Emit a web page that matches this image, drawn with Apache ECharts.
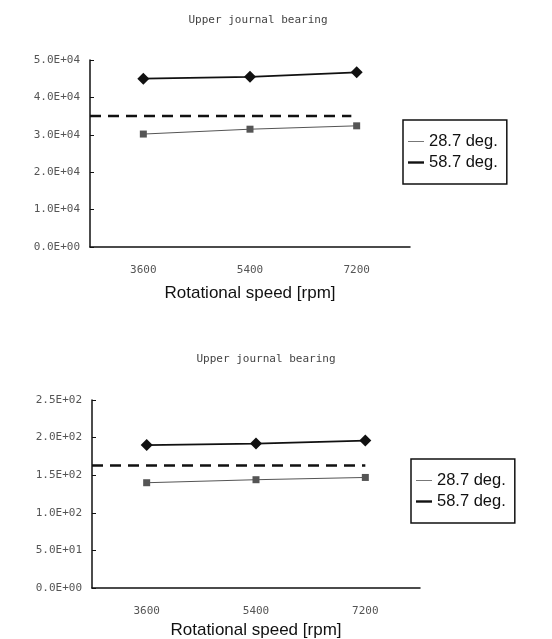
<!DOCTYPE html>
<html>
<head>
<meta charset="utf-8">
<script src="https://cdn.jsdelivr.net/npm/echarts@6/dist/echarts.min.js"></script>
<style>
html, body { margin: 0; padding: 0; background: #fff; }
#main { width: 552px; height: 639px; }
</style>
</head>
<body>
<div id="main"></div>
<script>
var speeds = ['3600', '5400', '7200'];
var seriesNames = ['28.7 deg.', '58.7 deg.'];

// upper chart
var top287 = [30200, 31500, 32400];
var top587 = [45000, 45500, 46700];
var topLimit = 35000;
var topLimitSpan = [0, 2.45];

// lower chart
var bot287 = [140, 144, 147];
var bot587 = [190, 192, 196];
var botLimit = 163;
var botLimitSpan = [0, 2.5];

var titles = ['Upper journal bearing', 'Upper journal bearing'];

function sci(v) {
    var s = v.toExponential(1).toUpperCase();
    var parts = s.split('E');
    var exp = parseInt(parts[1], 10);
    var sign = exp < 0 ? '-' : '+';
    var e = Math.abs(exp);
    return parts[0] + 'E' + sign + (e < 10 ? '0' + e : e);
}

var grids = [
    { left: 90, top: 60, width: 320, height: 187, outerBoundsMode: 'none' },
    { left: 92, top: 400, width: 328, height: 188, outerBoundsMode: 'none' }
];

var monoLabel = { fontFamily: 'DejaVu Sans Mono', fontSize: 11, color: '#555' };

function catAxis(i, gap) {
    return {
        type: 'category', gridIndex: i, data: speeds, boundaryGap: true,
        name: 'Rotational speed [rpm]', nameLocation: 'middle', nameGap: gap,
        nameTextStyle: { fontFamily: 'Liberation Sans', fontSize: 17, color: '#111' },
        axisLine: { lineStyle: { color: '#111', width: 1.5 } },
        axisTick: { inside: true, length: 4, lineStyle: { color: '#111' } },
        axisLabel: Object.assign({ margin: 18 }, monoLabel),
        splitLine: { show: false }
    };
}
function hiddenAxis(i) {
    return { type: 'value', gridIndex: i, min: 0, max: 3, show: false };
}
function valAxis(i, max, interval) {
    return {
        type: 'value', gridIndex: i, min: 0, max: max, interval: interval,
        axisLine: { show: true, lineStyle: { color: '#111', width: 1.5 } },
        axisTick: { show: true, inside: true, length: 4, lineStyle: { color: '#111' } },
        axisLabel: Object.assign({ margin: 10, formatter: sci }, monoLabel),
        splitLine: { show: false }
    };
}

function thinSeries(i, data) {
    return {
        name: seriesNames[0], type: 'line', xAxisIndex: i * 2, yAxisIndex: i,
        data: data, symbol: 'rect', symbolSize: 7,
        itemStyle: { color: '#555' }, lineStyle: { color: '#555', width: 1 }
    };
}
function thickSeries(i, data) {
    return {
        name: seriesNames[1], type: 'line', xAxisIndex: i * 2, yAxisIndex: i,
        data: data, symbol: 'diamond', symbolSize: 12,
        itemStyle: { color: '#111' }, lineStyle: { color: '#111', width: 1.8 }
    };
}
function limitSeries(i, value, span) {
    return {
        name: 'limit', type: 'line', xAxisIndex: i * 2 + 1, yAxisIndex: i,
        data: [[span[0], value], [span[1], value]], symbol: 'none',
        lineStyle: { color: '#111', width: 2.5, type: [11, 7] }, silent: true
    };
}

function legendAt(left, top) {
    return {
        orient: 'vertical', left: left, top: top,
        data: [
            { name: seriesNames[0], icon: 'path://M0,0H20V1H0Z' },
            { name: seriesNames[1], icon: 'path://M0,0H20V3H0Z' }
        ],
        itemWidth: 16, itemHeight: 8, itemGap: 4,
        padding: [13, 9, 13, 5],
        borderColor: '#111', borderWidth: 1.5,
        selectedMode: false,
        textStyle: { fontFamily: 'Liberation Sans', fontSize: 16.5, color: '#111' }
    };
}

var myChart = echarts.init(document.getElementById('main'));
var option = {
    backgroundColor: '#fff',
    animation: false,
    title: [
        { text: titles[0], left: 253, top: 10, textAlign: 'center',
          textStyle: { fontFamily: 'DejaVu Sans Mono', fontSize: 11, fontWeight: 'normal', color: '#444' } },
        { text: titles[1], left: 261, top: 349, textAlign: 'center',
          textStyle: { fontFamily: 'DejaVu Sans Mono', fontSize: 11, fontWeight: 'normal', color: '#444' } }
    ],
    legend: [legendAt(403, 120), legendAt(411, 459)],
    grid: grids,
    xAxis: [catAxis(0, 38), hiddenAxis(0), catAxis(1, 34), hiddenAxis(1)],
    yAxis: [valAxis(0, 50000, 10000), valAxis(1, 250, 50)],
    series: [
        thinSeries(0, top287), thickSeries(0, top587), limitSeries(0, topLimit, topLimitSpan),
        thinSeries(1, bot287), thickSeries(1, bot587), limitSeries(1, botLimit, botLimitSpan)
    ]
};
myChart.setOption(option);
</script>
</body>
</html>
